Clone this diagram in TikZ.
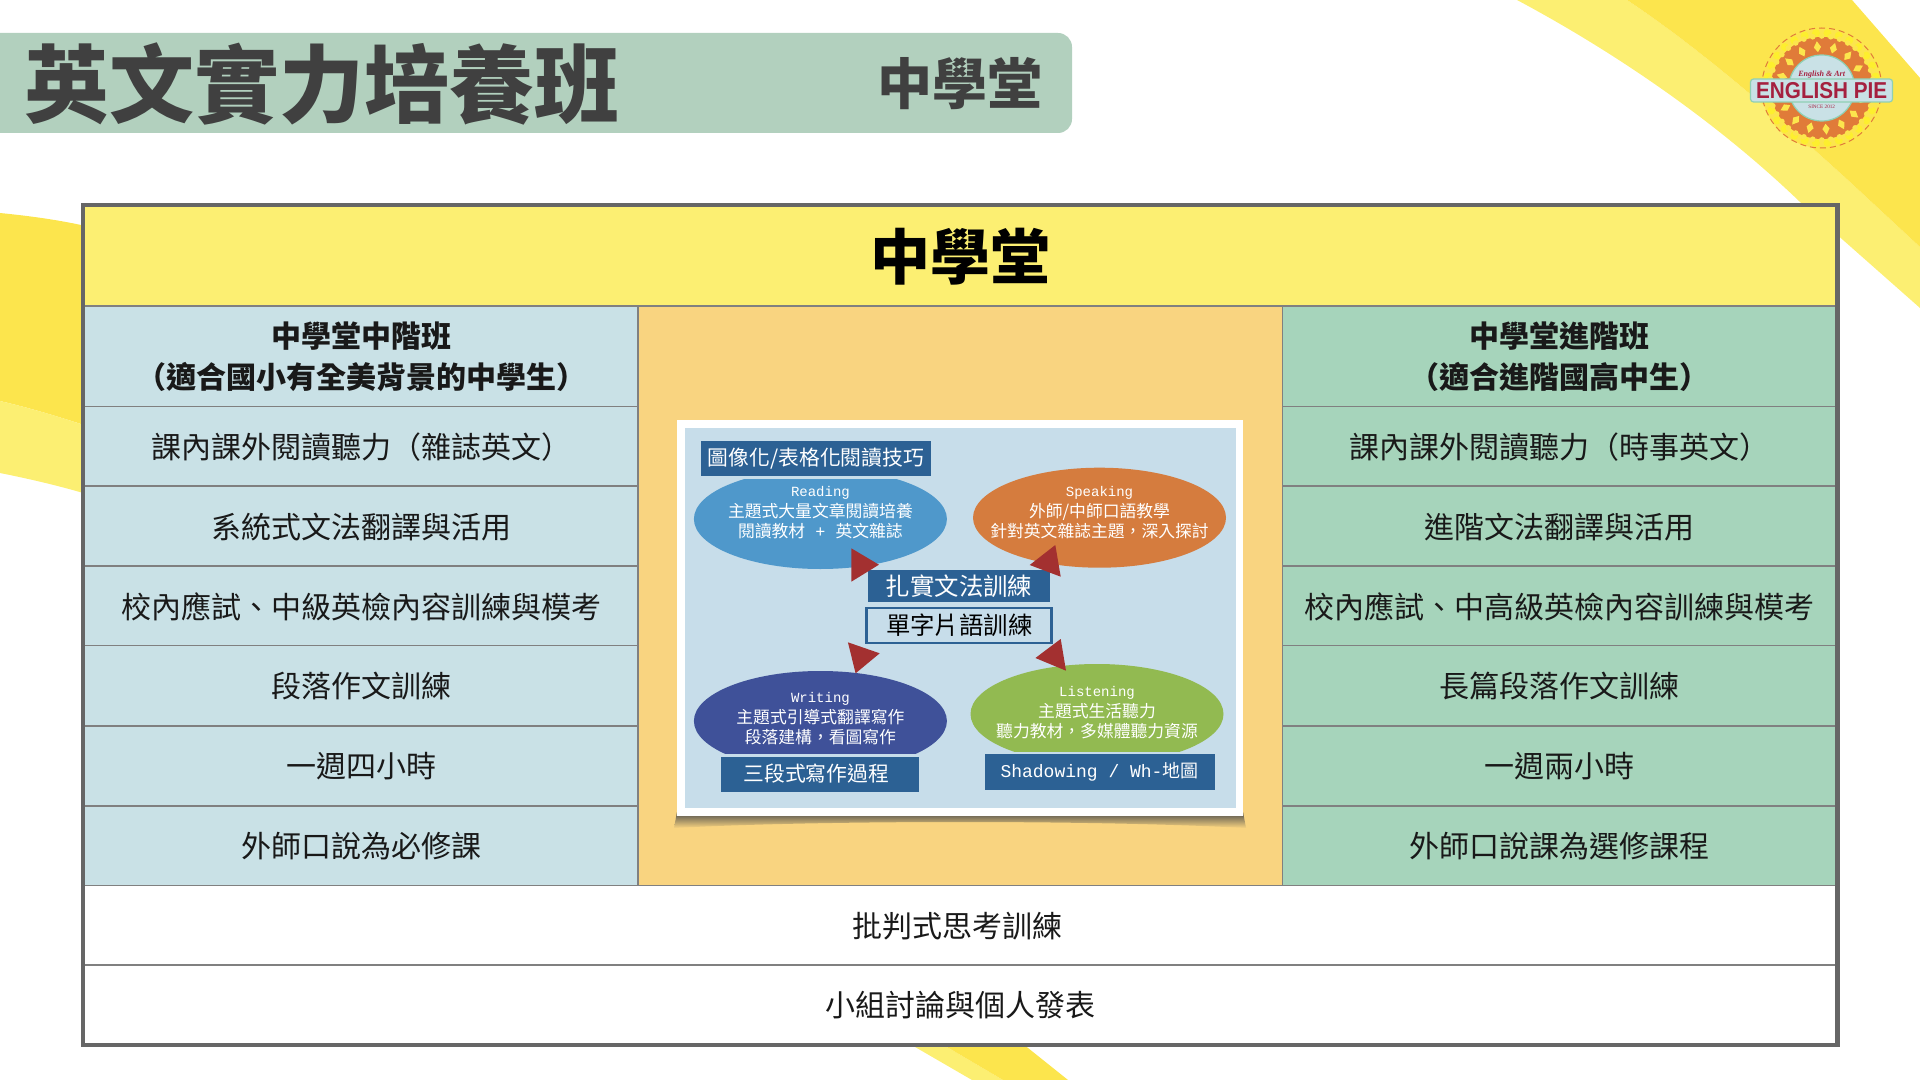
\documentclass[tikz,border=0pt]{standalone}
\usepackage{fontspec}
\setmainfont{Noto Sans CJK TC}
\setmonofont{Liberation Mono}
\newfontfamily\logofont{Liberation Sans}
\newfontfamily\logoserif{Liberation Serif}
\usetikzlibrary{shapes.geometric}

\definecolor{ribbonlight}{HTML}{FCEF72}
\definecolor{ribbondark}{HTML}{FCE54D}
\definecolor{barcol}{HTML}{B2D0BE}
\definecolor{titlecol}{HTML}{404040}
\definecolor{leftcol}{HTML}{C9E1E6}
\definecolor{midcol}{HTML}{F9D480}
\definecolor{rightcol}{HTML}{A6D4BB}
\definecolor{framecol}{HTML}{666666}
\definecolor{rulecol}{HTML}{808080}
\definecolor{photocol}{HTML}{C7DDEA}
\definecolor{readcol}{HTML}{4F98CB}
\definecolor{speakcol}{HTML}{D57C3E}
\definecolor{writecol}{HTML}{3F5199}
\definecolor{listencol}{HTML}{92BA51}
\definecolor{boxcol}{HTML}{2C6194}
\definecolor{wedgecol}{HTML}{A33030}
\definecolor{piecol}{HTML}{E07B39}
\definecolor{piered}{HTML}{A5203F}
\definecolor{piemint}{HTML}{8FD0B4}

\tikzset{
  cell/.style={inner sep=0pt, align=center, text=black!90,
    font=\fontsize{15}{20}\selectfont},
  headcell/.style={cell, font=\fontsize{15}{20.5}\selectfont\bfseries},
  blob/.style={ellipse, inner sep=0pt, minimum width=126.5pt, minimum height=50pt},
  blobtext/.style={inner sep=0pt, align=center, text=white,
    font=\fontsize{8.4}{10.3}\selectfont},
  bluebox/.style={fill=boxcol, inner sep=0pt, text=white, anchor=center},
  wedge/.style={fill=wedgecol},
}

\begin{document}
\begin{tikzpicture}[x=0.5pt, y=-0.5pt]
    \useasboundingbox (0,0) rectangle (1920,1080);

    % Column and row positions of the table, in pixels of the slide
    \coordinate (TL) at (83,205);
    \coordinate (BR) at (1837.5,1045);
    \coordinate (ColA) at (638,0);
    \coordinate (ColB) at (1282.5,0);

    % --- BACKGROUND RIBBONS ---

    % top right
    \fill[ribbonlight] (1517,0) .. controls (1620,55) and (1720,125) .. (1800,202)
        -- (1920,308) -- (1920,247) -- (1850,182)
        .. controls (1760,100) and (1690,42) .. (1627,0) -- cycle;
    \fill[ribbondark] (1627,0) .. controls (1690,42) and (1760,100) .. (1850,182)
        -- (1920,247) -- (1920,78) -- (1852,0) -- cycle;

    % left edge
    \fill[ribbondark] (0,213) .. controls (30,216) and (60,220) .. (90,227)
        -- (90,427) .. controls (60,417) and (30,408) .. (0,401) -- cycle;
    \fill[ribbonlight] (0,401) .. controls (30,408) and (60,417) .. (90,427)
        -- (90,495) .. controls (60,486) and (30,479) .. (0,473) -- cycle;

    % bottom
    \fill[ribbonlight] (903,1040) -- (935,1040) -- (1003,1080) -- (972,1080) -- cycle;
    \fill[ribbondark] (935,1040) -- (1018,1040) -- (1068,1080) -- (1003,1080) -- cycle;

    % --- TITLE BAR ---

    \fill[barcol, rounded corners=7pt] (-30,33) rectangle (1072,133);
    \node[inner sep=0pt, text=titlecol, font=\fontsize{42.5}{43}\selectfont\bfseries]
        (maintitle) at (322,84) {英文實力培養班};
    \node[inner sep=0pt, text=titlecol, font=\fontsize{27.5}{28}\selectfont\bfseries]
        (subtitle) at (960,84) {中學堂};

    % --- TABLE ---

    \fill[ribbonlight] (TL) rectangle (BR |- 0,306);
    \fill[leftcol] (TL |- 0,306) rectangle (ColA |- 0,885.5);
    \fill[midcol] (ColA |- 0,306) rectangle (ColB |- 0,885.5);
    \fill[rightcol] (ColB |- 0,306) rectangle (BR |- 0,885.5);
    \fill[white] (TL |- 0,885.5) rectangle (BR);

    % row lines
    \foreach \y in {406.5,486,566,645.5,726,806}
        \draw[rulecol, line width=0.7pt] (TL |- 0,\y) -- (ColA |- 0,\y)
            (ColB |- 0,\y) -- (BR |- 0,\y);
    \foreach \y in {306,885.5,965}
        \draw[rulecol, line width=0.7pt] (TL |- 0,\y) -- (BR |- 0,\y);
    \draw[rulecol, line width=0.7pt] (ColA |- 0,306) -- (ColA |- 0,885.5);
    \draw[rulecol, line width=0.7pt] (ColB |- 0,306) -- (ColB |- 0,885.5);
    \draw[framecol, line width=2.4pt] (TL) rectangle (BR);

    % table texts
    \node[inner sep=0pt, text=black, font=\fontsize{30}{30}\selectfont\bfseries]
        (tablehead) at (960,257) {中學堂};
    \node[headcell] (lefthead) at (361.5,356.5) {中學堂中階班\\（適合國小有全美背景的中學生）};
    \node[headcell] (righthead) at (1559,356.5) {中學堂進階班\\（適合進階國高中生）};

    \foreach \i/\y/\lefttext/\righttext in {
        1/447/{課內課外閱讀聽力（雜誌英文）}/{課內課外閱讀聽力（時事英文）},
        2/527/{系統式文法翻譯與活用}/{進階文法翻譯與活用},
        3/607/{校內應試、中級英檢內容訓練與模考}/{校內應試、中高級英檢內容訓練與模考},
        4/686.5/{段落作文訓練}/{長篇段落作文訓練},
        5/766.5/{一週四小時}/{一週兩小時},
        6/846.5/{外師口說為必修課}/{外師口說課為選修課程}}
    {
        \node[cell] (leftrow\i) at (361.5,\y) {\lefttext};
        \node[cell] (rightrow\i) at (1559,\y) {\righttext};
    }

    \node[cell] (footone) at (957,926) {批判式思考訓練};
    \node[cell] (foottwo) at (960,1005) {小組討論與個人發表};

    % --- PICTURE IN THE MIDDLE COLUMN ---

    % shadow under the frame
    \shade[top color=black!70, bottom color=midcol]
        (677,812) -- (1243,812) -- (1246,828)
        .. controls (1100,820) and (820,820) .. (674,828) -- cycle;
    \fill[white] (677,420) rectangle (1243,816);
    \fill[photocol] (684.5,428) rectangle (1235.5,808);

    % ellipses, two of them cut flat at the top, two at the bottom
    \begin{scope}
        \clip (680,479) rectangle (1240,600);
        \node[blob, fill=readcol] (reading) at (820.4,519) {};
    \end{scope}
    \node[blob, fill=speakcol] (speaking) at (1099.5,517.7) {};
    \begin{scope}
        \clip (680,650) rectangle (960,753);
        \node[blob, fill=writecol] (writing) at (820.4,721) {};
    \end{scope}
    \begin{scope}
        \clip (960,650) rectangle (1240,751.7);
        \node[blob, fill=listencol] (listening) at (1097,714) {};
    \end{scope}

    \node[blobtext] (readingtext) at (820.4,513)
        {{\ttfamily\fontsize{7}{10}\selectfont Reading}\\主題式大量文章閱讀培養\\閱讀教材{\ttfamily\ +\ }英文雜誌};
    \node[blobtext] (speakingtext) at (1099.5,513)
        {{\ttfamily\fontsize{7}{10}\selectfont Speaking}\\外師/中師口語教學\\針對英文雜誌主題，深入探討};
    \node[blobtext] (writingtext) at (820.4,719)
        {{\ttfamily\fontsize{7}{10}\selectfont Writing}\\主題式引導式翻譯寫作\\段落建構，看圖寫作};
    \node[blobtext] (listeningtext) at (1097,713)
        {{\ttfamily\fontsize{7}{10}\selectfont Listening}\\主題式生活聽力\\聽力教材，多媒體聽力資源};

    % boxes
    \node[bluebox, minimum width=114.8pt, minimum height=17.5pt, font=\fontsize{10.4}{12}\selectfont]
        (readingbox) at (816,458.2) {\raisebox{-0.5pt}{圖像化/表格化閱讀技巧}};
    \node[bluebox, minimum width=91pt, minimum height=16pt, font=\fontsize{12.2}{14}\selectfont]
        (grammarbox) at (959,586) {扎實文法訓練};
    \node[draw=boxcol, line width=1.4pt, fill=photocol, inner sep=0pt, text=black,
        minimum width=92.5pt, minimum height=17.5pt, font=\fontsize{12.2}{14}\selectfont]
        (vocabbox) at (959.2,625.5) {單字片語訓練};
    \node[bluebox, minimum width=98.8pt, minimum height=17.5pt, font=\fontsize{10.4}{12}\selectfont]
        (writingbox) at (820,774) {\hspace*{-3.7pt}三段式寫作過程};
    \node[bluebox, minimum width=115pt, minimum height=18pt, font=\fontsize{9}{12}\selectfont]
        (shadowbox) at (1099.5,772) {\raisebox{-0.5pt}{{\ttfamily Shadowing / Wh-}地圖}};

    % red triangles
    \fill[wedge] (851.3,548.3) -- (878.9,564.7) -- (851.3,581.7) -- cycle;
    \fill[wedge] (1055.3,545) -- (1029.7,565) -- (1060.7,576.7) -- cycle;
    \fill[wedge] (847.9,642.3) -- (879.7,653.3) -- (855.6,673.3) -- cycle;
    \fill[wedge] (1060.7,639) -- (1035.4,658) -- (1066,670.7) -- cycle;

    % --- LOGO ---

    \coordinate (Pie) at (1821.7,88);
    \draw[piecol, line width=0.5pt, dash pattern=on 3pt off 2pt, fill=ribbondark] (Pie) circle (60);
    \foreach \a in {0,12,...,348}
        \fill[ribbondark!60!yellow] (Pie) ++(\a:55) circle (4);
    \fill[piecol] (Pie) circle (51);
    \foreach \a in {6,28.5,...,350} {
        \fill[ribbondark, rotate around={\a:(Pie)}]
            ([xshift=18pt]Pie) -- ([xshift=20.5pt,yshift=-1.8pt]Pie)
            -- ([xshift=23.5pt]Pie) -- ([xshift=20.5pt,yshift=1.8pt]Pie) -- cycle;
    }
    \foreach \a in {0,10,...,350}
        \fill[ribbondark] (Pie) ++(\a:52) circle (2.8);
    \draw[piemint, line width=0.6pt, fill=leftcol] (Pie) circle (33);
    \draw[piemint, line width=0.6pt, fill=leftcol, rounded corners=1.5pt]
        (1750.5,79) rectangle (1892.5,102);
    \node[inner sep=0pt, text=piered, font=\logofont\bfseries\fontsize{11.5}{12}\selectfont]
        (piename) at (Pie |- 0,90.5) {\scalebox{.9}[1]{ENGLISH PIE}};
    \node[inner sep=0pt, text=piered, font=\logoserif\itshape\bfseries\fontsize{4}{5}\selectfont]
        (pieart) at (Pie |- 0,74.5) {English \& Art};
    \node[inner sep=0pt, text=piered, font=\logoserif\fontsize{2.6}{3}\selectfont]
        (piesince) at (Pie |- 0,106.5) {SINCE 2012};
\end{tikzpicture}
\end{document}
